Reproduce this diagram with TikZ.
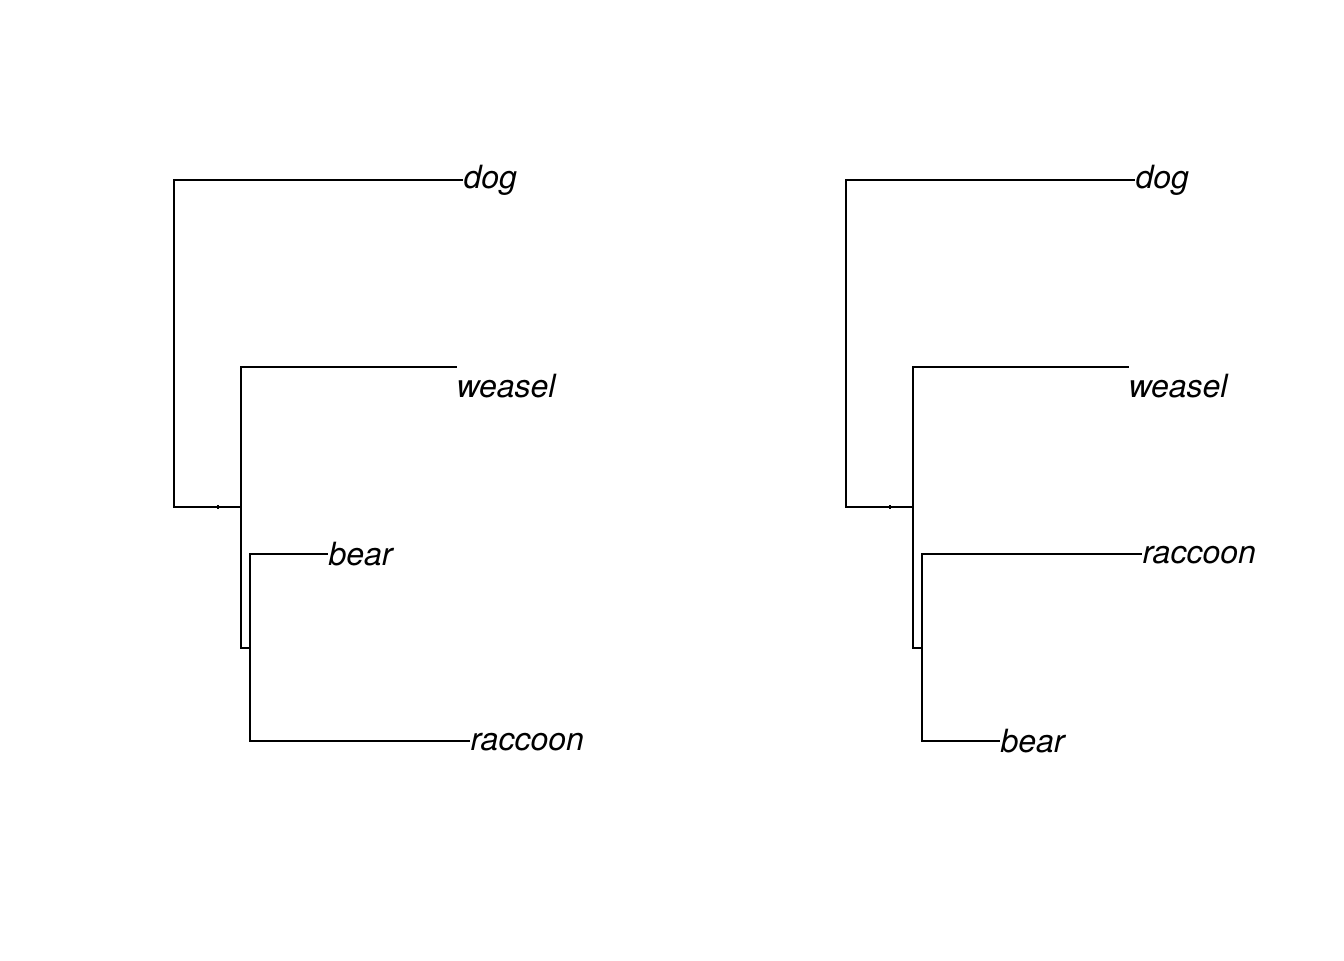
\documentclass[tikz,border=0pt]{standalone}
\usepackage{fontspec}
\setmainfont{TeX Gyre Heros}
\begin{document}
\begin{tikzpicture}[x=0.375pt,y=-0.375pt,
  edge/.style={line width=0.75pt,line cap=rect,line join=miter},
  tickmark/.style={line width=0.4pt},
  leaf/.style={anchor=base west,inner sep=0pt,font=\fontsize{12}{14}\selectfont\itshape}]
\useasboundingbox (0,0) rectangle (1344,960);
% ---------- left tree ----------
\coordinate (Lroot) at (174,507);
\coordinate (Lrtop) at (174,180);
\coordinate (Ltick) at (218,507);
\coordinate (Lin) at (241,507);
\coordinate (Lintop) at (241,367);
\coordinate (Linbot) at (241,648);
\coordinate (Lsub) at (250,648);
\coordinate (Lsubtop) at (250,554);
\coordinate (Lsubbot) at (250,741);
\coordinate (Ldogt) at (462,180);
\coordinate (Lweat) at (456,367);
\coordinate (Lbeart) at (327,554);
\coordinate (Lract) at (469,741);
\node[leaf] (Ldog) at (463,188) {dog};
\node[leaf] (Lwea) at (456,397) {weasel};
\node[leaf] (Lbear) at (328,565) {bear};
\node[leaf] (Lrac) at (470,750) {raccoon};
\draw[edge] (Ldogt) -- (Lrtop) -- (Lroot) -- (Lin);
\draw[tickmark] ([yshift=-0.6pt]Ltick) -- ([yshift=0.6pt]Ltick);
\draw[edge] (Lweat) -- (Lintop) -- (Linbot) -- (Lsub);
\draw[edge] (Lbeart) -- (Lsubtop) -- (Lsubbot) -- (Lract);
% ---------- right tree ----------
\coordinate (Rroot) at (846,507);
\coordinate (Rrtop) at (846,180);
\coordinate (Rtick) at (890,507);
\coordinate (Rin) at (913,507);
\coordinate (Rintop) at (913,367);
\coordinate (Rinbot) at (913,648);
\coordinate (Rsub) at (922,648);
\coordinate (Rsubtop) at (922,554);
\coordinate (Rsubbot) at (922,741);
\coordinate (Rdogt) at (1134,180);
\coordinate (Rweat) at (1128,367);
\coordinate (Rract) at (1141,554);
\coordinate (Rbeart) at (999,741);
\node[leaf] (Rdog) at (1135,188) {dog};
\node[leaf] (Rwea) at (1128,397) {weasel};
\node[leaf] (Rrac) at (1142,563) {raccoon};
\node[leaf] (Rbear) at (1000,752) {bear};
\draw[edge] (Rdogt) -- (Rrtop) -- (Rroot) -- (Rin);
\draw[tickmark] ([yshift=-0.6pt]Rtick) -- ([yshift=0.6pt]Rtick);
\draw[edge] (Rweat) -- (Rintop) -- (Rinbot) -- (Rsub);
\draw[edge] (Rract) -- (Rsubtop) -- (Rsubbot) -- (Rbeart);
\end{tikzpicture}
\end{document}
